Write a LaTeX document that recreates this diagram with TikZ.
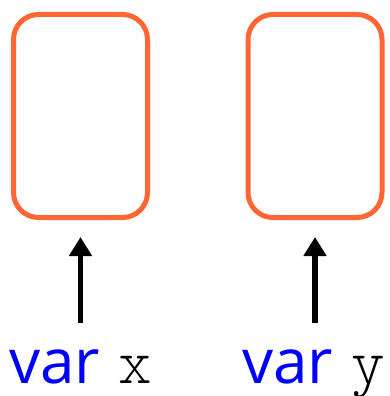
\documentclass[tikz,border=0pt]{standalone}
\usepackage{fontspec}
\usepackage{xcolor}
\usepackage{tikz}
\usetikzlibrary{positioning,arrows.meta}
\newfontfamily\varfont{Open Sans}
\newfontfamily\namefont{Latin Modern Mono Light}
\definecolor{boxorange}{RGB}{255,102,51}

\begin{document}
\begin{tikzpicture}[x=1pt, y=-1pt,
  slot/.style={draw=boxorange, line width=5pt, rounded corners=25pt, minimum width=134pt, minimum height=203pt},
  varlabel/.style={inner sep=0pt, anchor=base west, font=\fontsize{62}{70}\selectfont},
  pointer/.style={-{Triangle[length=19pt, width=22pt]}, line width=5.5pt, shorten <=26pt, shorten >=17pt},
]
  \useasboundingbox (0,0) rectangle (390,396);

  % Boxes
  \node[slot] (boxx) at (80.5,116) {};
  \node[slot] (boxy) at (315,116) {};

  % Labels
  \node[varlabel] (labx) at (9,383) {\textcolor{blue}{\varfont var} {\fontsize{64}{70}\namefont x}};
  \node[varlabel] (laby) at (242,383) {\textcolor{blue}{\varfont var} {\fontsize{64}{70}\namefont y}};

  % Arrows
  \draw[pointer] (labx.north -| boxx.south) -- (boxx.south);
  \draw[pointer] (laby.north -| boxy.south) -- (boxy.south);

\end{tikzpicture}
\end{document}
